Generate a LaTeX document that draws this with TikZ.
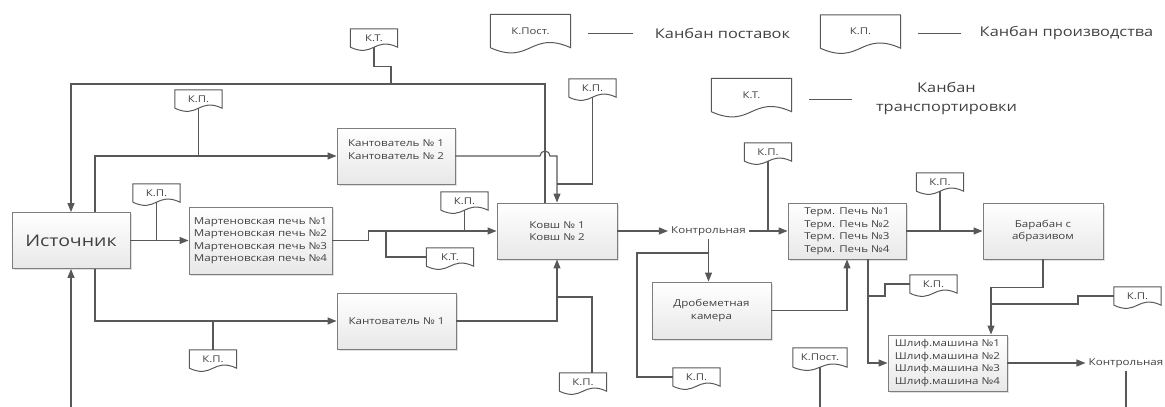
\documentclass[tikz,border=0pt]{standalone}
\usepackage{fontspec}
\setmainfont{Open Sans}[FakeStretch=1.22]
\usetikzlibrary{arrows.meta,calc,shadows}

\definecolor{lgray}{RGB}{88,88,88}
\definecolor{bgray}{RGB}{125,125,125}
\definecolor{tgray}{RGB}{65,65,65}

\newcommand\procfont{\fontsize{9.5}{12.5}\selectfont}
\newcommand\srcfont{\fontsize{16}{19}\selectfont}
\newcommand\kpfont{\fontsize{9.3}{11}\selectfont}
\newcommand\legfont{\fontsize{13.4}{19}\selectfont}

\tikzset{
  proc/.style = {draw=bgray, line width=0.9pt, top color=white, bottom color=gray!18,
                 drop shadow={shadow xshift=1.5pt, shadow yshift=-1.5pt, fill=gray!40, opacity=.6},
                 font=\procfont, text=tgray, inner sep=2pt, minimum height=56pt},
  kanban/.style = {font=\kpfont, text=tgray, inner sep=0pt, minimum width=47pt, minimum height=18pt},
  docline/.style = {draw=lgray, line width=1pt}
}

\begin{document}
\begin{tikzpicture}[x=1pt, y=-1pt]
  \useasboundingbox (0,0) rectangle (1165,407);

  % process boxes
  \begin{scope}[every node/.style = {proc}]
    \node[minimum width=118pt, font=\srcfont] (src) at (71,240.5) {Источник};
    \node[minimum width=118pt, align=left] (kant12) at (396,156) {Кантователь № 1\\Кантователь № 2\\~};
    \node[minimum width=143pt, minimum height=67pt, align=left] (mart) at (260.5,240.5)
      {Мартеновская печь №1\\Мартеновская печь №2\\Мартеновская печь №3\\Мартеновская печь №4};
    \node[minimum width=119pt] (kant1) at (396.5,321) {Кантователь № 1};
    \node[minimum width=120pt, align=center] (kovsh) at (557,231) {Ковш № 1\\Ковш № 2};
    \node[minimum width=119pt, minimum height=57pt, align=center] (drob) at (711.5,310.5) {Дробеметная\\камера};
    \node[minimum width=118pt, align=left] (term) at (847,231)
      {Терм. Печь №1\\Терм. Печь №2\\Терм. Печь №3\\Терм. Печь №4};
    \node[minimum width=120pt, align=center] (baraban) at (1043,231) {Барабан с\\абразивом};
    \node[minimum width=119pt, align=left] (shlif) at (947.5,363)
      {Шлиф.машина №1\\Шлиф.машина №2\\Шлиф.машина №3\\Шлиф.машина №4};
  \end{scope}

  \begin{scope}[every node/.style = {font=\procfont, text=tgray, inner sep=3pt}]
    \node (ctrl1) at (708.5,231) {Контрольная};
    \node (ctrl2) at (1126,363) {Контрольная};
  \end{scope}

  % kanban cards
  \begin{scope}[every node/.style = {kanban}]
    \node (kt1) at (374,38) {К.Т.};
    \node (kp1) at (198.5,99) {К.П.};
    \node (kp2) at (156.5,193) {К.П.};
    \node (kp3) at (464.5,201) {К.П.};
    \node (kt2) at (450,257) {К.Т.};
    \node (kp4) at (213,359) {К.П.};
    \node (kp5) at (592.5,88) {К.П.};
    \node (kp6) at (583,382) {К.П.};
    \node (kp7) at (768,152) {К.П.};
    \node (kp8) at (696.5,377) {К.П.};
    \node (kp9) at (940,182) {К.П.};
    \node (kp10) at (933.5,284) {К.П.};
    \node (kp11) at (1137.5,296) {К.П.};
    \node[minimum width=54pt, minimum height=19pt] (kpost) at (820,357.5) {К.Пост.};
  \end{scope}
  \foreach \k in {kt1,kp1,kp2,kp3,kt2,kp4,kp5,kp6,kp7,kp8,kp9,kp10,kp11,kpost}
    \draw[docline] (\k.south west) -- (\k.north west) -- (\k.north east) -- (\k.south east)
      .. controls ($(\k.south)+(0pt,11pt)$) and ($(\k.south)+(0pt,-11pt)$) .. (\k.south west);

  % legend
  \begin{scope}[every node/.style = {kanban, minimum width=80pt, minimum height=33pt}]
    \node (lpost) at (530.5,31) {К.Пост.};
    \node (lkp) at (860.5,31.5) {К.П.};
    \node (lkt) at (751.5,95) {К.Т.};
  \end{scope}
  \foreach \k in {lpost,lkp,lkt}
    \draw[docline] (\k.south west) -- (\k.north west) -- (\k.north east) -- (\k.south east)
      .. controls ($(\k.south)+(0pt,18pt)$) and ($(\k.south)+(0pt,-18pt)$) .. (\k.south west);
  \begin{scope}[every node/.style = {font=\legfont, text=tgray, inner sep=0pt}]
    \node (leg1) at (722.5,33) {Канбан поставок};
    \node (leg2) at (1066.5,33) {Канбан производства};
    \node[align=center] (leg3) at (946.5,98.5) {Канбан\\транспортировки};
  \end{scope}
  \draw[lgray, line width=1pt] (588,33) -- (633,33);
  \draw[lgray, line width=1pt] (918,33) -- (961,33);
  \draw[lgray, line width=1pt] (809,99) -- (852,99);

  % junctions and loose ends
  \coordinate (jkt) at (391,84);
  \coordinate (jump) at (545,156);
  \coordinate (jkp5) at (557,184);
  \coordinate (jmart) at (386,231);
  \coordinate (jkp6) at (557,297);
  \coordinate (jctrl) at (708.5,253);
  \coordinate (jterm) at (868,296);
  \coordinate (jbar) at (991,304);
  \coordinate (bsrc) at (71,407);
  \coordinate (bkpost) at (821,407);
  \coordinate (bctrl) at (1123,407);

  \begin{scope}[color=lgray, line width=1.1pt, >={Triangle[length=9pt,width=7pt]}]
    % back to the source
    \draw[->] ([xshift=-12pt]kovsh.north) |- (jkt) -| (src.north);
    \draw (kt1.south) -- ++(0,19) -| (jkt);
    \draw[->] (bsrc) -- (src.south);
    % source out
    \draw[->] ([xshift=24pt]src.north) |- (kant12.west);
    \draw (kp1.south) -- (kp1.south |- kant12.west);
    \draw[->] ([xshift=24pt]src.south) |- (kant1.west);
    \draw (kp4.north) -- (kp4.north |- kant1.west);
    \draw[->] (src.east) -- (mart.west);
    \draw (kp2.south) -- (kp2.south |- src.east);
    % into the ladles
    \draw[->] (mart.east) -- ++(36,0) |- (kovsh.west);
    \draw (jmart) |- (kt2.west);
    \draw (kp3.south) -- (kp3.south |- kovsh.west);
    \draw[->] (kant12.east) -- ([xshift=-5pt]jump) arc[start angle=180, end angle=0, radius=5pt] -| (kovsh.north);
    \draw (kp5.south) |- (jkp5);
    \draw[->] (kant1.east) -| (kovsh.south);
    \draw (jkp6) -| ([xshift=9pt]kp6.north);
    % control, shot blasting, heat treatment
    \draw[->] (kovsh.east) -- (ctrl1.west);
    \draw[->] (ctrl1.east) -- (term.west);
    \draw (kp7.south) -- (kp7.south |- term.west);
    \draw[->] (ctrl1.south) -- (ctrl1.south |- drob.north);
    \draw (jctrl) -- ++(-71.5,0) |- (kp8.west);
    \draw[->] (drob.east) -| (term.south);
    % drum and grinding
    \draw[->] (term.east) -- (baraban.west);
    \draw (kp9.south) -- (kp9.south |- term.east);
    \draw[->] ([xshift=21pt]term.south) |- (shlif.west);
    \draw (jterm) -- ++(17,0) |- (kp10.west);
    \draw[->] (baraban.south) -- ++(0,28) -| ([xshift=43.5pt]shlif.north);
    \draw (jbar) -- ++(87,0) |- (kp11.west);
    \draw[->] (shlif.east) -- (ctrl2.west);
    \draw (ctrl2.south) -- (ctrl2.south |- bctrl);
    \draw (kpost.south) -- (kpost.south |- bkpost);
  \end{scope}
\end{tikzpicture}
\end{document}
